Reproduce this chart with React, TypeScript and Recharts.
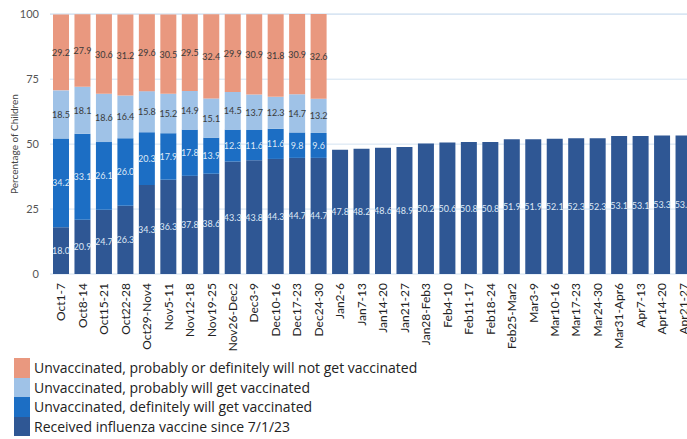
import React from 'react';
import { BarChart, Bar, XAxis, YAxis, CartesianGrid, LabelList, Legend } from 'recharts';

const weeks = [
  'Oct1-7', 'Oct8-14', 'Oct15-21', 'Oct22-28', 'Oct29-Nov4', 'Nov5-11', 'Nov12-18', 'Nov19-25',
  'Nov26-Dec2', 'Dec3-9', 'Dec10-16', 'Dec17-23', 'Dec24-30', 'Jan2-6', 'Jan7-13', 'Jan14-20',
  'Jan21-27', 'Jan28-Feb3', 'Feb4-10', 'Feb11-17', 'Feb18-24', 'Feb25-Mar2', 'Mar3-9', 'Mar10-16',
  'Mar17-23', 'Mar24-30', 'Mar31-Apr6', 'Apr7-13', 'Apr14-20', 'Apr21-27',
];

const received = [
  18.0, 20.9, 24.7, 26.3, 34.3, 36.3, 37.8, 38.6, 43.3, 43.8, 44.3, 44.7, 44.7,
  47.8, 48.2, 48.6, 48.9, 50.2, 50.6, 50.8, 50.8, 51.9, 51.9, 52.1, 52.3, 52.3, 53.1, 53.1, 53.3, 53.3,
];
const definitely = [34.2, 33.1, 26.1, 26.0, 20.3, 17.9, 17.8, 13.9, 12.3, 11.6, 11.6, 9.8, 9.6];
const probably = [18.5, 18.1, 18.6, 16.4, 15.8, 15.2, 14.9, 15.1, 14.5, 13.7, 12.3, 14.7, 13.2];
const notGet = [29.2, 27.9, 30.6, 31.2, 29.6, 30.5, 29.5, 32.4, 29.9, 30.9, 31.8, 30.9, 32.6];

const yTicks = [0, 25, 50, 75, 100];

const series = [
  { key: 'notGet', name: 'Unvaccinated, probably or definitely will not get vaccinated', color: '#E9987F', text: '#3a3a3a' },
  { key: 'probably', name: 'Unvaccinated, probably will get vaccinated', color: '#9FC2E7', text: '#3a3a3a' },
  { key: 'definitely', name: 'Unvaccinated, definitely will get vaccinated', color: '#1C6EC4', text: '#dfe9f6' },
  { key: 'received', name: 'Received influenza vaccine since 7/1/23', color: '#2F5794', text: '#dfe9f6' },
];

const data = weeks.map((w, i) => ({
  week: w,
  received: received[i],
  definitely: definitely[i],
  probably: probably[i],
  notGet: notGet[i],
}));

const FONT = 'Lato, "Open Sans", sans-serif';

const XTick = (props: any) => {
  const { x, y, payload } = props;
  return (
    <text
      x={x}
      y={y}
      transform={`rotate(-90 ${x} ${y})`}
      textAnchor="end"
      dominantBaseline="central"
      fontSize={12}
      fontFamily={FONT}
      fill="#222"
    >
      {payload.value}
    </text>
  );
};

const makeLabel = (color: string) => (props: any) => {
  const { x, y, width, height, value } = props;
  if (value === undefined || value === null) return null;
  return (
    <text
      x={x + width / 2}
      y={y + height / 2}
      textAnchor="middle"
      dominantBaseline="central"
      fontSize={9}
      fontFamily={FONT}
      fill={color}
    >
      {Number(value).toFixed(1)}
    </text>
  );
};

const LegendContent = () => (
  <div style={{ fontFamily: '"Open Sans", Lato, sans-serif', fontSize: 14, color: '#222' }}>
    {series.map((s) => (
      <div key={s.key} style={{ display: 'flex', alignItems: 'center', height: 19.5 }}>
        <div style={{ width: 16, height: 19.5, background: s.color, marginRight: 4 }} />
        <span style={{ whiteSpace: 'nowrap' }}>{s.name}</span>
      </div>
    ))}
  </div>
);

export default function App() {
  const stackOrder = [...series].reverse();
  return (
    <div style={{ position: 'absolute', left: 0, top: 0, width: 687, height: 439, overflow: 'hidden', background: '#fff' }}>
      <BarChart
        width={694}
        height={439}
        data={data}
        margin={{ top: 14, right: 0, bottom: 0, left: 0 }}
        barSize={16}
      >
        <CartesianGrid vertical={false} stroke="#d3e2f1" strokeWidth={1} />
        <XAxis
          dataKey="week"
          axisLine={false}
          tickLine={false}
          tickSize={0}
          tickMargin={9}
          interval={0}
          height={165}
          tick={<XTick />}
        />
        <YAxis
          domain={[0, 100]}
          ticks={yTicks}
          width={50}
          axisLine={false}
          tickLine={false}
          tickSize={0}
          tickMargin={11}
          tick={{ fontSize: 11, fill: '#555', fontFamily: FONT }}
          label={{
            value: 'Percentage of Children',
            angle: -90,
            position: 'insideLeft',
            offset: 0,
            dx: 14,
            style: { textAnchor: 'middle', fontSize: 10, fill: '#444', fontFamily: FONT },
          }}
        />
        <Legend
          layout="vertical"
          align="center"
          verticalAlign="middle"
          wrapperStyle={{ left: 14, top: 358, width: 600 }}
          content={<LegendContent />}
        />
        {stackOrder.map((s) => (
          <Bar key={s.key} dataKey={s.key} name={s.name} stackId="a" fill={s.color} isAnimationActive={false}>
            <LabelList dataKey={s.key} content={makeLabel(s.text)} />
          </Bar>
        ))}
      </BarChart>
    </div>
  );
}
